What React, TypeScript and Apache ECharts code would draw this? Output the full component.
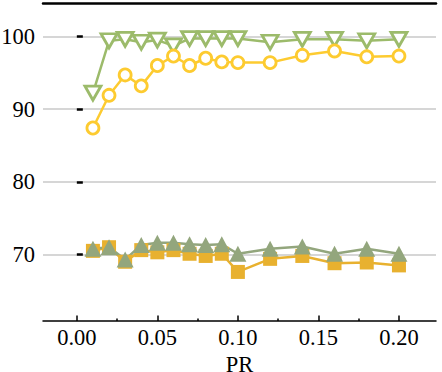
import React, { useEffect, useRef } from "react";
import * as echarts from "echarts";

const prValues = [0.01, 0.02, 0.03, 0.04, 0.05, 0.06, 0.07, 0.08, 0.09, 0.1, 0.12, 0.14, 0.16, 0.18, 0.2];
const greenDown = [92.2, 99.4, 99.6, 99.2, 99.5, 98.7, 99.7, 99.7, 99.7, 99.7, 99.2, 99.6, 99.6, 99.4, 99.6];
const yellowCircle = [87.4, 91.9, 94.7, 93.2, 96.0, 97.3, 96.0, 97.0, 96.5, 96.4, 96.4, 97.4, 98.0, 97.2, 97.3];
const orangeSquare = [70.5, 71.0, 69.0, 70.6, 70.3, 70.6, 70.1, 69.8, 70.1, 67.6, 69.4, 69.8, 68.8, 68.9, 68.5];
const grayUp = [70.8, 71.0, 69.3, 71.3, 71.6, 71.6, 71.4, 71.3, 71.4, 70.1, 70.8, 71.1, 70.1, 70.8, 70.1];
const xTicks = [0, 0.05, 0.1, 0.15, 0.2];
const xMinorTicks = [0.025, 0.075, 0.125, 0.175];
const yTicks = [70, 80, 90, 100];

const pairs = (ys: number[]) => prValues.map((x, i) => [x, ys[i]]);

export default function App() {
  const ref = useRef<HTMLDivElement>(null);
  useEffect(() => {
    if (!ref.current) return;
    const chart = echarts.init(ref.current, undefined, { renderer: "svg" });
    const font = "Times New Roman";
    const xRange = { min: -0.021, max: 0.223 };
    chart.setOption({
      animation: false,
      textStyle: { fontFamily: font },
      grid: { left: 43, right: 6, top: 3, bottom: 51, containLabel: false, outerBoundsMode: "none" },
      xAxis: [
        {
          type: "value",
          ...xRange,
          position: "bottom",
          name: "PR",
          nameLocation: "middle",
          nameGap: 36,
          nameTextStyle: { fontFamily: font, fontSize: 22.5, color: "#000", verticalAlign: "middle", lineHeight: 20 },
          axisLine: { show: true, onZero: false, lineStyle: { color: "#000", width: 1.5 } },
          axisTick: { show: true, inside: true, length: 5.5, customValues: xTicks, lineStyle: { color: "#000", width: 1.5 } },
          axisLabel: {
            customValues: xTicks,
            formatter: (v: number) => v.toFixed(2),
            fontFamily: font,
            fontSize: 22.5,
            color: "#000",
            verticalAlign: "middle",
            lineHeight: 22,
            margin: 16,
          },
          splitLine: { show: false },
        },
        {
          type: "value",
          ...xRange,
          position: "bottom",
          axisLine: { show: false },
          axisTick: { show: true, inside: true, length: 2.5, customValues: xMinorTicks, lineStyle: { color: "#000", width: 1.5 } },
          axisLabel: { show: false },
          splitLine: { show: false },
        },
        {
          type: "value",
          ...xRange,
          position: "top",
          axisLine: { show: true, onZero: false, lineStyle: { color: "#000", width: 2.5 } },
          axisTick: { show: false },
          axisLabel: { show: false },
          splitLine: { show: false },
        },
      ],
      yAxis: {
        type: "value",
        min: 60.85,
        max: 104.6,
        axisLine: { show: false },
        axisTick: { show: true, inside: true, length: 6, customValues: yTicks, lineStyle: { color: "#000", width: 2.5 } },
        axisLabel: { customValues: yTicks, fontFamily: font, fontSize: 22.5, color: "#000", margin: 8 },
        splitLine: { show: true, lineStyle: { color: "#c8c8c8", width: 1.5 } },
      },
      series: [
        {
          type: "line",
          data: pairs(greenDown),
          symbol: "triangle",
          symbolRotate: 180,
          symbolSize: [16, 14],
          lineStyle: { color: "#9cbb6b", width: 2.5 },
          itemStyle: { color: "#ffffff", borderColor: "#9cbb6b", borderWidth: 2.8 },
        },
        {
          type: "line",
          data: pairs(yellowCircle),
          symbol: "circle",
          symbolSize: 12,
          lineStyle: { color: "#fdcb30", width: 2.5 },
          itemStyle: { color: "#ffffff", borderColor: "#fdcb30", borderWidth: 2.8 },
        },
        {
          type: "line",
          data: pairs(orangeSquare),
          symbol: "rect",
          symbolSize: 14,
          lineStyle: { color: "#e8b12f", width: 2.5 },
          itemStyle: { color: "#e8b12f" },
        },
        {
          type: "line",
          data: pairs(grayUp),
          symbol: "triangle",
          symbolSize: [17, 16],
          lineStyle: { color: "#93a67d", width: 2.5 },
          itemStyle: { color: "#93a67d" },
        },
      ],
    });
    return () => chart.dispose();
  }, []);
  return <div ref={ref} style={{ width: 442, height: 372, position: "absolute", left: 0, top: 0 }} />;
}
